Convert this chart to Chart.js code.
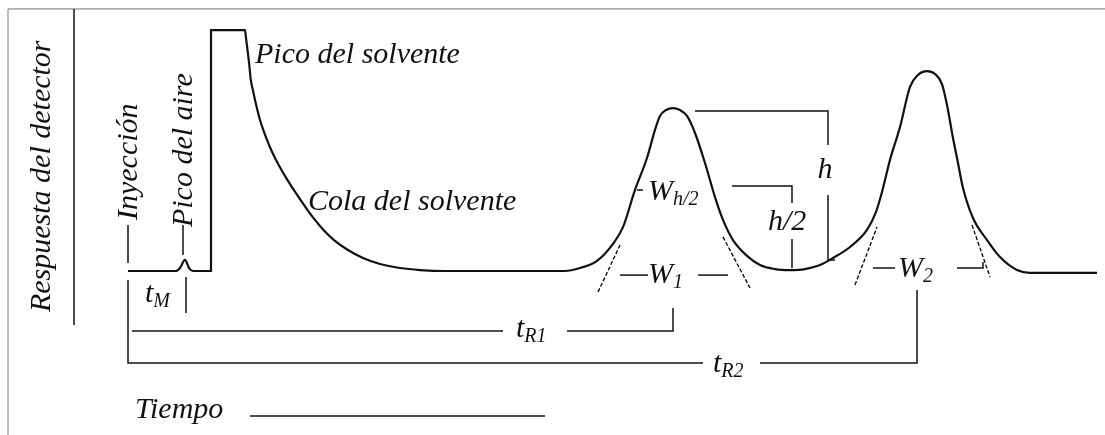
<!DOCTYPE html>
<html>
<head>
<meta charset="utf-8">
<script src="https://cdn.jsdelivr.net/npm/chart.js@4.4.1/dist/chart.umd.min.js"></script>
<style>
  html, body { margin: 0; padding: 0; background: #fff; }
  #wrap { position: relative; width: 1105px; height: 435px; }
</style>
</head>
<body>
<div id="wrap"><canvas id="chart-1"></canvas></div>
<script>
// senal del detector: tiempo (u.a., 0 = inyeccion) y respuesta (% del pico del solvente)
const tiempo = [
  0, 4.8, 5.2, 5.7, 6.1, 6.5, 8.3, 8.3, 11.7, 11.8, 11.95, 12.13, 12.28, 12.49, 12.7,
  12.94, 13.2, 13.53, 13.9, 14.32, 14.8, 15.35, 15.95, 16.58, 17.25, 17.95, 18.7,
  19.55, 20.6, 22.0, 23.5, 25.2, 27.2, 29.2, 31.7, 43.7, 45.2, 46.9, 48.5, 49.5,
  50.7, 51.9, 52.7, 53.2, 53.8, 54.5, 55.2, 55.9, 56.7, 57.7, 58.7, 59.5, 60.5, 61.9,
  63.2, 64.7, 66.2, 67.7, 69.2, 70.5, 72.2, 73.9, 74.8, 75.4, 76.2, 77.2, 78.2, 79.0,
  79.9, 80.7, 81.4, 81.9, 82.5, 83.0, 83.5, 84.5, 85.9, 87.2, 88.9, 90.2, 96.9
];
const respuesta = [
  0, 0, 1.25, 4.6, 1.25, 0, 0, 100.4, 100.4, 97.1, 92.1, 85.8, 79.6, 75.4, 71.3,
  67.1, 62.9, 58.8, 54.6, 50.4, 46.3, 42.1, 37.9, 33.8, 29.6, 25.4, 21.3,
  17.1, 12.9, 8.75, 5.4, 2.9, 1.25, 0.4, 0, 0, 1.25, 4.2, 11.3, 18.3,
  33.8, 47.1, 58.8, 64.6, 67.1, 67.9, 67.1, 64.6, 57.5, 45.0, 30.8, 21.3, 12.9, 6.3,
  2.5, 0.8, 0.4, 0.8, 2.5, 5.4, 10.0, 17.1, 24.6, 32.9, 46.3, 60.0, 76.7, 81.7,
  83.3, 82.1, 77.9, 69.2, 55.4, 45.0, 34.6, 22.1, 12.9, 5.8, 0.4, -0.8, -0.8
];

// tiempos caracteristicos
const tM = 5.8;
const tR1 = 54.5;
const tR2 = 78.9;

// lineas de cota (tiempo, respuesta)
const cotas = [
  [[0, 19.2], [0, 3.3]],
  [[0, -3.75], [0, -38.3], [57.5, -38.3]],
  [[63.2, -38.3], [tR2, -38.3], [tR2, -7.9]],
  [[0.4, -25], [37.5, -25]],
  [[43.9, -25], [tR1, -25], [tR1, -15.4]],
  [[tM, -2.5], [tM, -17.5]],
  [[5.5, 19.2], [5.5, 6.7]],
  [[56.7, 66.7], [70, 66.7], [70, 52.5]],
  [[70, 31.7], [70, 4.6], [70.7, 4.6]],
  [[60.4, 35.4], [66.4, 35.4], [66.4, 28.3]],
  [[66.4, 13.3], [66.4, 1.25]],
  [[49.2, -1.7], [52.0, -1.7]],
  [[57.0, -1.7], [60.0, -1.7]],
  [[50.9, 33.75], [51.5, 33.75]],
  [[74.5, 1.25], [76.7, 1.25]],
  [[82.9, 1.25], [85.5, 1.25], [85.5, 3.75]],
  [[12.2, -60.4], [41.7, -60.4]],
  [[-5.4, 109.2], [-5.4, -22.5]]
];
const tangentes = [
  [[47.0, -8.75], [49.2, 10.8]],
  [[59.5, 14.2], [62.2, -7.1]],
  [[72.7, -5.8], [74.9, 18.3]],
  [[84.4, 19.2], [86.2, -2.5]]
];
const marco = [[-12.0, -68.3], [-12.0, 109.2], [97.7, 109.2]];

const textos = [
  { txt: 'Pico del solvente', t: 12.7, r: 86.7 },
  { txt: 'Cola del solvente', t: 18.0, r: 25.4 },
  { txt: 'Tiempo', t: 0.7, r: -61.25 },
  { txt: 'h', t: 69.7, r: 38.75, align: 'center' },
  { txt: 'h/2', t: 64.0, r: 17.1 },
  { txt: 'Respuesta del detector', t: -7.8, r: -17.1, rot: true },
  { txt: 'Inyección', t: 0.9, r: 21.25, rot: true },
  { txt: 'Pico del aire', t: 6.4, r: 18.3, rot: true },
  { txt: 'W', sub: 'h/2', t: 52.0, r: 29.6 },
  { txt: 'W', sub: '1', t: 52.0, r: -5 },
  { txt: 'W', sub: '2', t: 77.0, r: -2.5 },
  { txt: 't', sub: 'M', t: 1.7, r: -12.9 },
  { txt: 't', sub: 'R1', t: 38.8, r: -27.5 },
  { txt: 't', sub: 'R2', t: 58.5, r: -42 }
];

const toPts = arr => arr.map(p => ({ x: p[0], y: p[1] }));

const datasets = [{
  data: tiempo.map((t, i) => ({ x: t, y: respuesta[i] })),
  borderColor: '#111',
  borderWidth: 2.2,
  cubicInterpolationMode: 'monotone'
}];
cotas.forEach(c => datasets.push({ data: toPts(c), borderColor: '#111', borderWidth: 1.5 }));
tangentes.forEach(c => datasets.push({ data: toPts(c), borderColor: '#000', borderWidth: 1.3, borderDash: [4, 2] }));
datasets.push({ data: toPts(marco), borderColor: '#777', borderWidth: 1 });

const serif = '"Liberation Serif", "Times New Roman", serif';

const textPlugin = {
  id: 'textos',
  afterDatasetsDraw(chart) {
    const ctx = chart.ctx;
    const xs = chart.scales.x, ys = chart.scales.y;
    ctx.save();
    ctx.fillStyle = '#111';
    ctx.textBaseline = 'alphabetic';
    textos.forEach(o => {
      const px = xs.getPixelForValue(o.t);
      const py = ys.getPixelForValue(o.r);
      ctx.font = 'italic 30px ' + serif;
      if (o.rot) {
        ctx.save();
        ctx.translate(px, py);
        ctx.rotate(-Math.PI / 2);
        ctx.textAlign = 'left';
        ctx.fillText(o.txt, 0, 0);
        ctx.restore();
        return;
      }
      ctx.textAlign = o.align || 'left';
      ctx.fillText(o.txt, px, py);
      if (o.sub) {
        const w = ctx.measureText(o.txt).width;
        ctx.font = 'italic 20px ' + serif;
        ctx.textAlign = 'left';
        ctx.fillText(o.sub, px + w, py + 5);
      }
    });
    ctx.restore();
  }
};

new Chart(document.getElementById('chart-1'), {
  type: 'scatter',
  data: { datasets },
  options: {
    responsive: true,
    maintainAspectRatio: false,
    animation: false,
    showLine: true,
    layout: { padding: 0 },
    elements: { point: { radius: 0, hoverRadius: 0 }, line: { fill: false } },
    plugins: { legend: { display: false }, tooltip: { enabled: false } },
    scales: {
      x: { type: 'linear', display: false, min: -12.8, max: 97.7 },
      y: { type: 'linear', display: false, min: -68.33, max: 112.92 }
    }
  },
  plugins: [textPlugin]
});
</script>
</body>
</html>
